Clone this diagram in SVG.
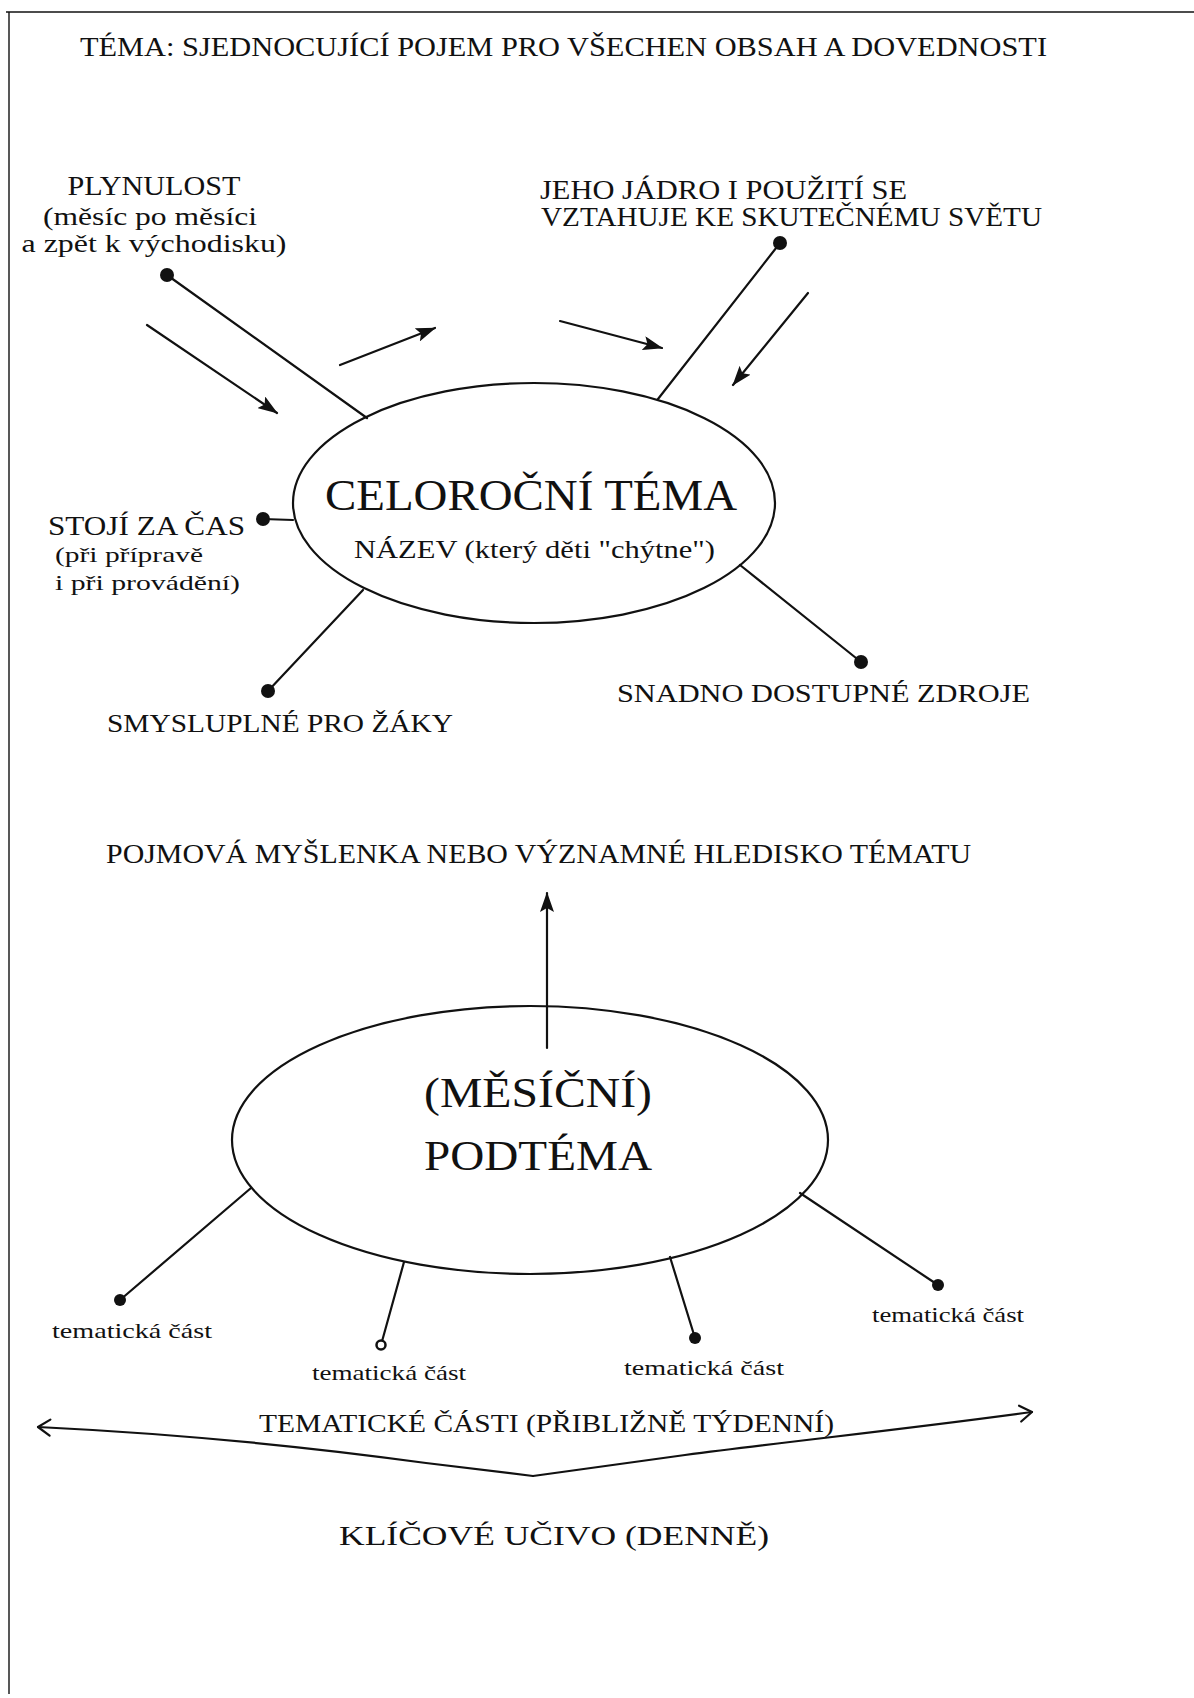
<svg xmlns="http://www.w3.org/2000/svg" width="1194" height="1698" viewBox="0 0 1194 1698">
<defs>
<style>
text{font-family:"Liberation Serif","DejaVu Serif",serif;fill:#111;}
.t{font-size:28px;}
.m{font-size:27px;}
.s{font-size:25px;}
.xs{font-size:22px;}
.big{font-size:45px;}
.mid{font-size:42px;}
.ln{stroke:#111;stroke-width:2.2;fill:none;stroke-linecap:round;}
.el{stroke:#111;stroke-width:2.2;fill:none;}
.dot{fill:#111;}
.c{text-anchor:middle;}
</style>
<marker id="ah" viewBox="0 0 20 14" refX="19" refY="7" markerWidth="20" markerHeight="14" markerUnits="userSpaceOnUse" orient="auto">
<path d="M0,0 L20,7 L0,14 L4,7 z" fill="#111"/>
</marker>
<marker id="open" viewBox="0 0 20 20" refX="18" refY="10" markerWidth="20" markerHeight="20" markerUnits="userSpaceOnUse" orient="auto-start-reverse">
<path d="M6,2 L18,10 L6,18" fill="none" stroke="#111" stroke-width="2.2" stroke-linecap="round" stroke-linejoin="round"/>
</marker>
</defs>
<rect width="1194" height="1698" fill="#fff"/>
<g id="frame">
<line x1="6" y1="12" x2="1194" y2="12" stroke="#111" stroke-width="1.6"/>
<line x1="9" y1="12" x2="9" y2="1694" stroke="#111" stroke-width="1.4"/>
</g>
<g id="title"><text class="t" x="80" y="56" textLength="967" lengthAdjust="spacingAndGlyphs">TÉMA: SJEDNOCUJÍCÍ POJEM PRO VŠECHEN OBSAH A DOVEDNOSTI</text></g>

<g id="connectors">
<line class="ln" x1="167" y1="275" x2="367" y2="418"/>
<line class="ln" x1="780" y1="243" x2="658" y2="399"/>
<line class="ln" x1="263" y1="519" x2="293" y2="520"/>
<line class="ln" x1="268" y1="691" x2="363" y2="590"/>
<line class="ln" x1="861" y1="662" x2="740" y2="565"/>
<line class="ln" x1="147" y1="325" x2="277" y2="413" marker-end="url(#ah)"/>
<line class="ln" x1="340" y1="365" x2="435" y2="328" marker-end="url(#ah)"/>
<line class="ln" x1="560" y1="321" x2="662" y2="348" marker-end="url(#ah)"/>
<line class="ln" x1="808" y1="293" x2="733" y2="385" marker-end="url(#ah)"/>
<line class="ln" x1="547" y1="1048" x2="547" y2="893" marker-end="url(#ah)"/>
<line class="ln" x1="251" y1="1188" x2="120" y2="1300"/>
<line class="ln" x1="404" y1="1262" x2="381" y2="1345"/>
<line class="ln" x1="670" y1="1257" x2="695" y2="1338"/>
<line class="ln" x1="800" y1="1193" x2="938" y2="1285"/>
<path class="ln" d="M38,1427 C120,1431 259,1440 426,1463 L533,1476" marker-start="url(#open)"/>
<path class="ln" d="M533,1476 L685,1455 C800,1440 900,1430 1032,1412" marker-end="url(#open)"/>
<circle class="dot" cx="167" cy="275" r="7"/>
<circle class="dot" cx="780" cy="243" r="7"/>
<circle class="dot" cx="263" cy="519" r="7"/>
<circle class="dot" cx="268" cy="691" r="7"/>
<circle class="dot" cx="861" cy="662" r="7"/>
<circle class="dot" cx="120" cy="1300" r="6"/>
<circle cx="381" cy="1345" r="4.5" fill="#fff" stroke="#111" stroke-width="2.5"/>
<circle class="dot" cx="695" cy="1338" r="6"/>
<circle class="dot" cx="938" cy="1285" r="6"/>
</g>

<g id="celorocni-tema">
<ellipse class="el" cx="534" cy="503" rx="241" ry="120"/>
<text class="big" x="325" y="510" textLength="412" lengthAdjust="spacingAndGlyphs">CELOROČNÍ TÉMA</text>
<text class="s" x="354" y="558" textLength="361" lengthAdjust="spacingAndGlyphs">NÁZEV (který děti "chýtne")</text>
</g>
<g id="plynulost">
<text class="m c" x="154" y="195" textLength="173" lengthAdjust="spacingAndGlyphs">PLYNULOST</text>
<text class="s c" x="150" y="225" textLength="214" lengthAdjust="spacingAndGlyphs">(měsíc po měsíci</text>
<text class="s c" x="154" y="252" textLength="265" lengthAdjust="spacingAndGlyphs">a zpět k východisku)</text>
</g>
<g id="jadro">
<text class="m" x="540" y="199" textLength="367" lengthAdjust="spacingAndGlyphs">JEHO JÁDRO I POUŽITÍ SE</text>
<text class="m" x="541" y="226" textLength="501" lengthAdjust="spacingAndGlyphs">VZTAHUJE KE SKUTEČNÉMU SVĚTU</text>
</g>
<g id="stoji">
<text class="m" x="48" y="535" textLength="197" lengthAdjust="spacingAndGlyphs">STOJÍ ZA ČAS</text>
<text class="xs" x="55" y="562" textLength="148" lengthAdjust="spacingAndGlyphs">(při přípravě</text>
<text class="xs" x="55" y="590" textLength="185" lengthAdjust="spacingAndGlyphs">i při provádění)</text>
</g>
<g id="smysluplne"><text class="s" x="107" y="732" textLength="346" lengthAdjust="spacingAndGlyphs">SMYSLUPLNÉ PRO ŽÁKY</text></g>
<g id="zdroje"><text class="s" x="617" y="702" textLength="413" lengthAdjust="spacingAndGlyphs">SNADNO DOSTUPNÉ ZDROJE</text></g>
<g id="pojmova"><text class="m" x="106" y="863" textLength="865" lengthAdjust="spacingAndGlyphs">POJMOVÁ MYŠLENKA NEBO VÝZNAMNÉ HLEDISKO TÉMATU</text></g>
<g id="podtema">
<ellipse class="el" cx="530" cy="1140" rx="298" ry="134"/>
<text class="mid" x="424" y="1107" textLength="228" lengthAdjust="spacingAndGlyphs">(MĚSÍČNÍ)</text>
<text class="mid" x="424" y="1170" textLength="228" lengthAdjust="spacingAndGlyphs">PODTÉMA</text>
</g>
<g id="cast1"><text class="xs" x="52" y="1338" textLength="160" lengthAdjust="spacingAndGlyphs">tematická část</text></g>
<g id="cast2"><text class="xs" x="312" y="1380" textLength="154" lengthAdjust="spacingAndGlyphs">tematická část</text></g>
<g id="cast3"><text class="xs" x="624" y="1375" textLength="160" lengthAdjust="spacingAndGlyphs">tematická část</text></g>
<g id="cast4"><text class="xs" x="872" y="1322" textLength="152" lengthAdjust="spacingAndGlyphs">tematická část</text></g>
<g id="tematicke-casti"><text class="s" x="259" y="1432" textLength="575" lengthAdjust="spacingAndGlyphs">TEMATICKÉ ČÁSTI (PŘIBLIŽNĚ TÝDENNÍ)</text></g>
<g id="klicove"><text class="t" x="339" y="1545" textLength="430" lengthAdjust="spacingAndGlyphs">KLÍČOVÉ UČIVO (DENNĚ)</text></g>
</svg>
